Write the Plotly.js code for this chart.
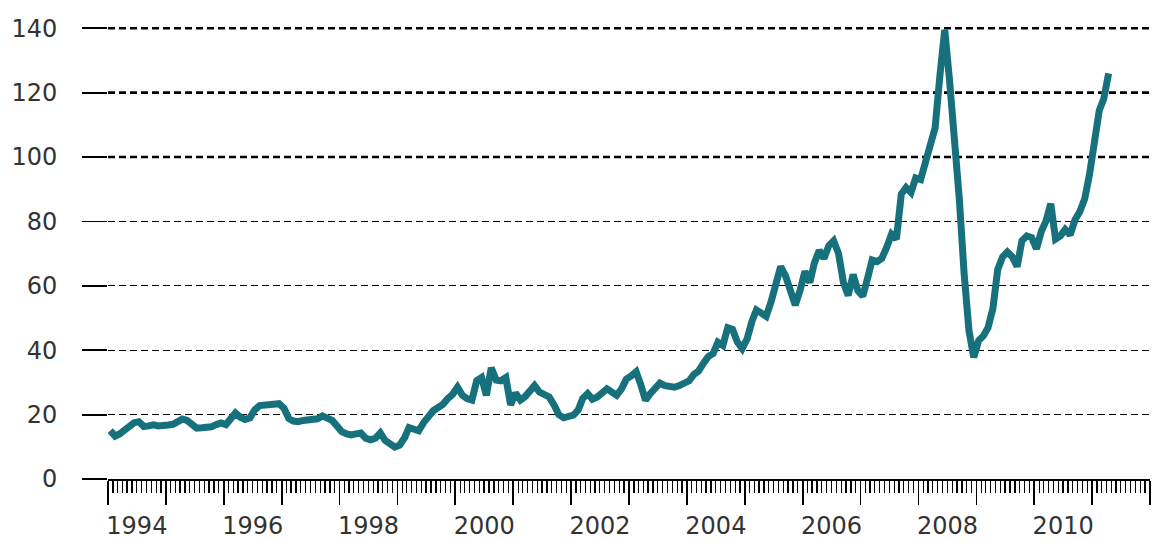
<!DOCTYPE html>
<html>
<head>
<meta charset="utf-8">
<script src="https://cdn.plot.ly/plotly-3.0.1.min.js"></script>
<style>
  html, body { margin: 0; padding: 0; background: #ffffff; }
  #chart { width: 1152px; height: 542px; }
</style>
</head>
<body>
<div id="chart"></div>
<script>
// Monthly values (Jan 1994 – Apr 2011)
const v1994 = [15.0, 13.3, 14.0, 15.2, 16.5, 17.5, 17.8, 16.3, 16.5, 16.8, 16.5, 16.4];
const v1995 = [16.8, 17.0, 17.8, 18.6, 18.2, 17.3, 15.8, 15.9, 16.0, 16.2, 16.9, 17.4];
const v1996 = [16.9, 19.0, 20.5, 19.2, 18.5, 19.0, 21.5, 22.8, 23.0, 23.4, 23.7, 23.4];
const v1997 = [22.0, 18.8, 18.0, 17.8, 18.2, 18.3, 18.6, 18.7, 19.6, 19.0, 18.2, 16.5];
const v1998 = [14.7, 14.0, 13.7, 14.0, 14.3, 12.7, 12.2, 12.7, 14.3, 12.0, 10.6, 9.9];
const v1999 = [10.5, 12.8, 16.0, 15.5, 15.0, 17.5, 19.5, 21.2, 22.2, 23.2, 25.0, 26.3];
const v2000 = [28.5, 26.0, 25.0, 24.5, 30.5, 31.5, 26.0, 34.5, 30.7, 30.5, 31.5, 23.0];
const v2001 = [26.7, 24.5, 25.5, 27.5, 29.0, 27.0, 26.5, 25.5, 23.0, 20.0, 19.0, 19.2];
const v2002 = [19.8, 21.5, 25.0, 26.5, 24.8, 25.5, 26.8, 28.0, 27.0, 26.0, 28.0, 31.0];
const v2003 = [32.0, 33.3, 29.5, 24.5, 26.5, 28.5, 29.8, 29.0, 28.7, 28.5, 29.0, 29.5];
const v2004 = [30.5, 32.5, 33.5, 36.0, 38.0, 39.0, 42.5, 41.5, 47.0, 46.5, 42.5, 40.5];
const v2005 = [43.5, 49.0, 52.5, 51.5, 50.5, 55.0, 60.5, 66.0, 63.0, 58.0, 54.0, 58.5];
const v2006 = [64.5, 61.0, 67.0, 71.0, 68.5, 72.5, 74.0, 70.0, 61.0, 57.0, 63.5, 58.5];
const v2007 = [56.8, 62.5, 68.0, 67.5, 68.5, 72.0, 76.0, 74.5, 88.5, 90.5, 89.0, 93.5];
const v2008 = [93.0, 98.5, 103.0, 109.0, 125.0, 139.5, 124.0, 107.0, 87.0, 64.0, 46.0, 37.8];
const v2009 = [43.0, 44.5, 47.0, 53.0, 65.0, 69.0, 70.5, 69.0, 66.0, 74.0, 75.5, 75.0];
const v2010 = [71.5, 77.0, 80.0, 85.5, 74.5, 75.5, 77.5, 75.8, 80.5, 83.0, 87.0, 94.5];
const v2011 = [106.0, 114.5, 118.0, 126.0];

const yearly = [
  [1994, v1994], [1995, v1995], [1996, v1996], [1997, v1997], [1998, v1998],
  [1999, v1999], [2000, v2000], [2001, v2001], [2002, v2002], [2003, v2003],
  [2004, v2004], [2005, v2005], [2006, v2006], [2007, v2007], [2008, v2008],
  [2009, v2009], [2010, v2010], [2011, v2011]
];

// Tick labels (centred on the labelled year)
const yearLabels = ['1994', '1996', '1998', '2000', '2002', '2004', '2006', '2008', '2010'];
const yTicks = [0, 20, 40, 60, 80, 100, 120, 140];
const yTicksBold = [100, 120, 140];

const dates = [], values = [];
yearly.forEach(([yr, arr]) => {
  arr.forEach((v, m) => {
    dates.push(yr + '-' + String(m + 1).padStart(2, '0') + '-15');
    values.push(v);
  });
});

const FONT = 'DejaVu Sans, sans-serif';
const TXT = '#333333';

const trace = {
  x: dates, y: values, type: 'scatter', mode: 'lines',
  line: { color: '#17717c', width: 7, shape: 'linear' },
  cliponaxis: false, hoverinfo: 'x+y', showlegend: false
};

const xr = ['1994-01-01', '2012-01-01'];

const layout = {
  width: 1152, height: 542,
  margin: { l: 108, r: 2, t: 25, b: 63, pad: 0 },
  paper_bgcolor: '#ffffff', plot_bgcolor: '#ffffff',
  showlegend: false,
  xaxis: {
    type: 'date', range: xr,
    tick0: '1994-01-01', dtick: 'M12',
    showticklabels: false,
    ticks: 'outside', ticklen: 24, tickwidth: 1.6, tickcolor: '#000',
    minor: { dtick: 'M1', ticks: 'outside', ticklen: 12, tickwidth: 1.3, tickcolor: '#000', showgrid: false },
    showline: true, linecolor: '#000', linewidth: 2,
    showgrid: false, zeroline: false
  },
  xaxis2: {
    type: 'date', range: xr, overlaying: 'x', anchor: 'y', side: 'bottom',
    tickmode: 'array',
    tickvals: yearLabels.map(y => y + '-07-02'),
    ticktext: yearLabels,
    ticks: 'outside', ticklen: 25, tickcolor: 'rgba(0,0,0,0)',
    tickfont: { family: FONT, size: 24, color: TXT },
    showline: false, showgrid: false, zeroline: false
  },
  yaxis: {
    range: [0, 141],
    tickmode: 'array', tickvals: yTicks,
    ticks: 'outside', ticklen: 25, tickwidth: 1.8, tickcolor: '#000',
    ticklabelstandoff: 20,
    tickfont: { family: FONT, size: 24, color: TXT },
    showgrid: true, gridcolor: '#000', gridwidth: 1, griddash: '7px,4px',
    showline: false, zeroline: false
  },
  shapes: yTicksBold.map(v => ({
    type: 'line', xref: 'paper', x0: 0, x1: 1, yref: 'y', y0: v, y1: v,
    layer: 'below', line: { color: '#000', width: 2.6, dash: '7px,4px' }
  }))
};

// invisible helper trace so the overlay label axis is drawn
const helper = { x: [xr[0]], y: [0], xaxis: 'x2', yaxis: 'y', type: 'scatter', mode: 'markers',
  marker: { opacity: 0 }, hoverinfo: 'skip', showlegend: false };

Plotly.newPlot('chart', [helper, trace], layout, { displayModeBar: false, staticPlot: true });
</script>
</body>
</html>
